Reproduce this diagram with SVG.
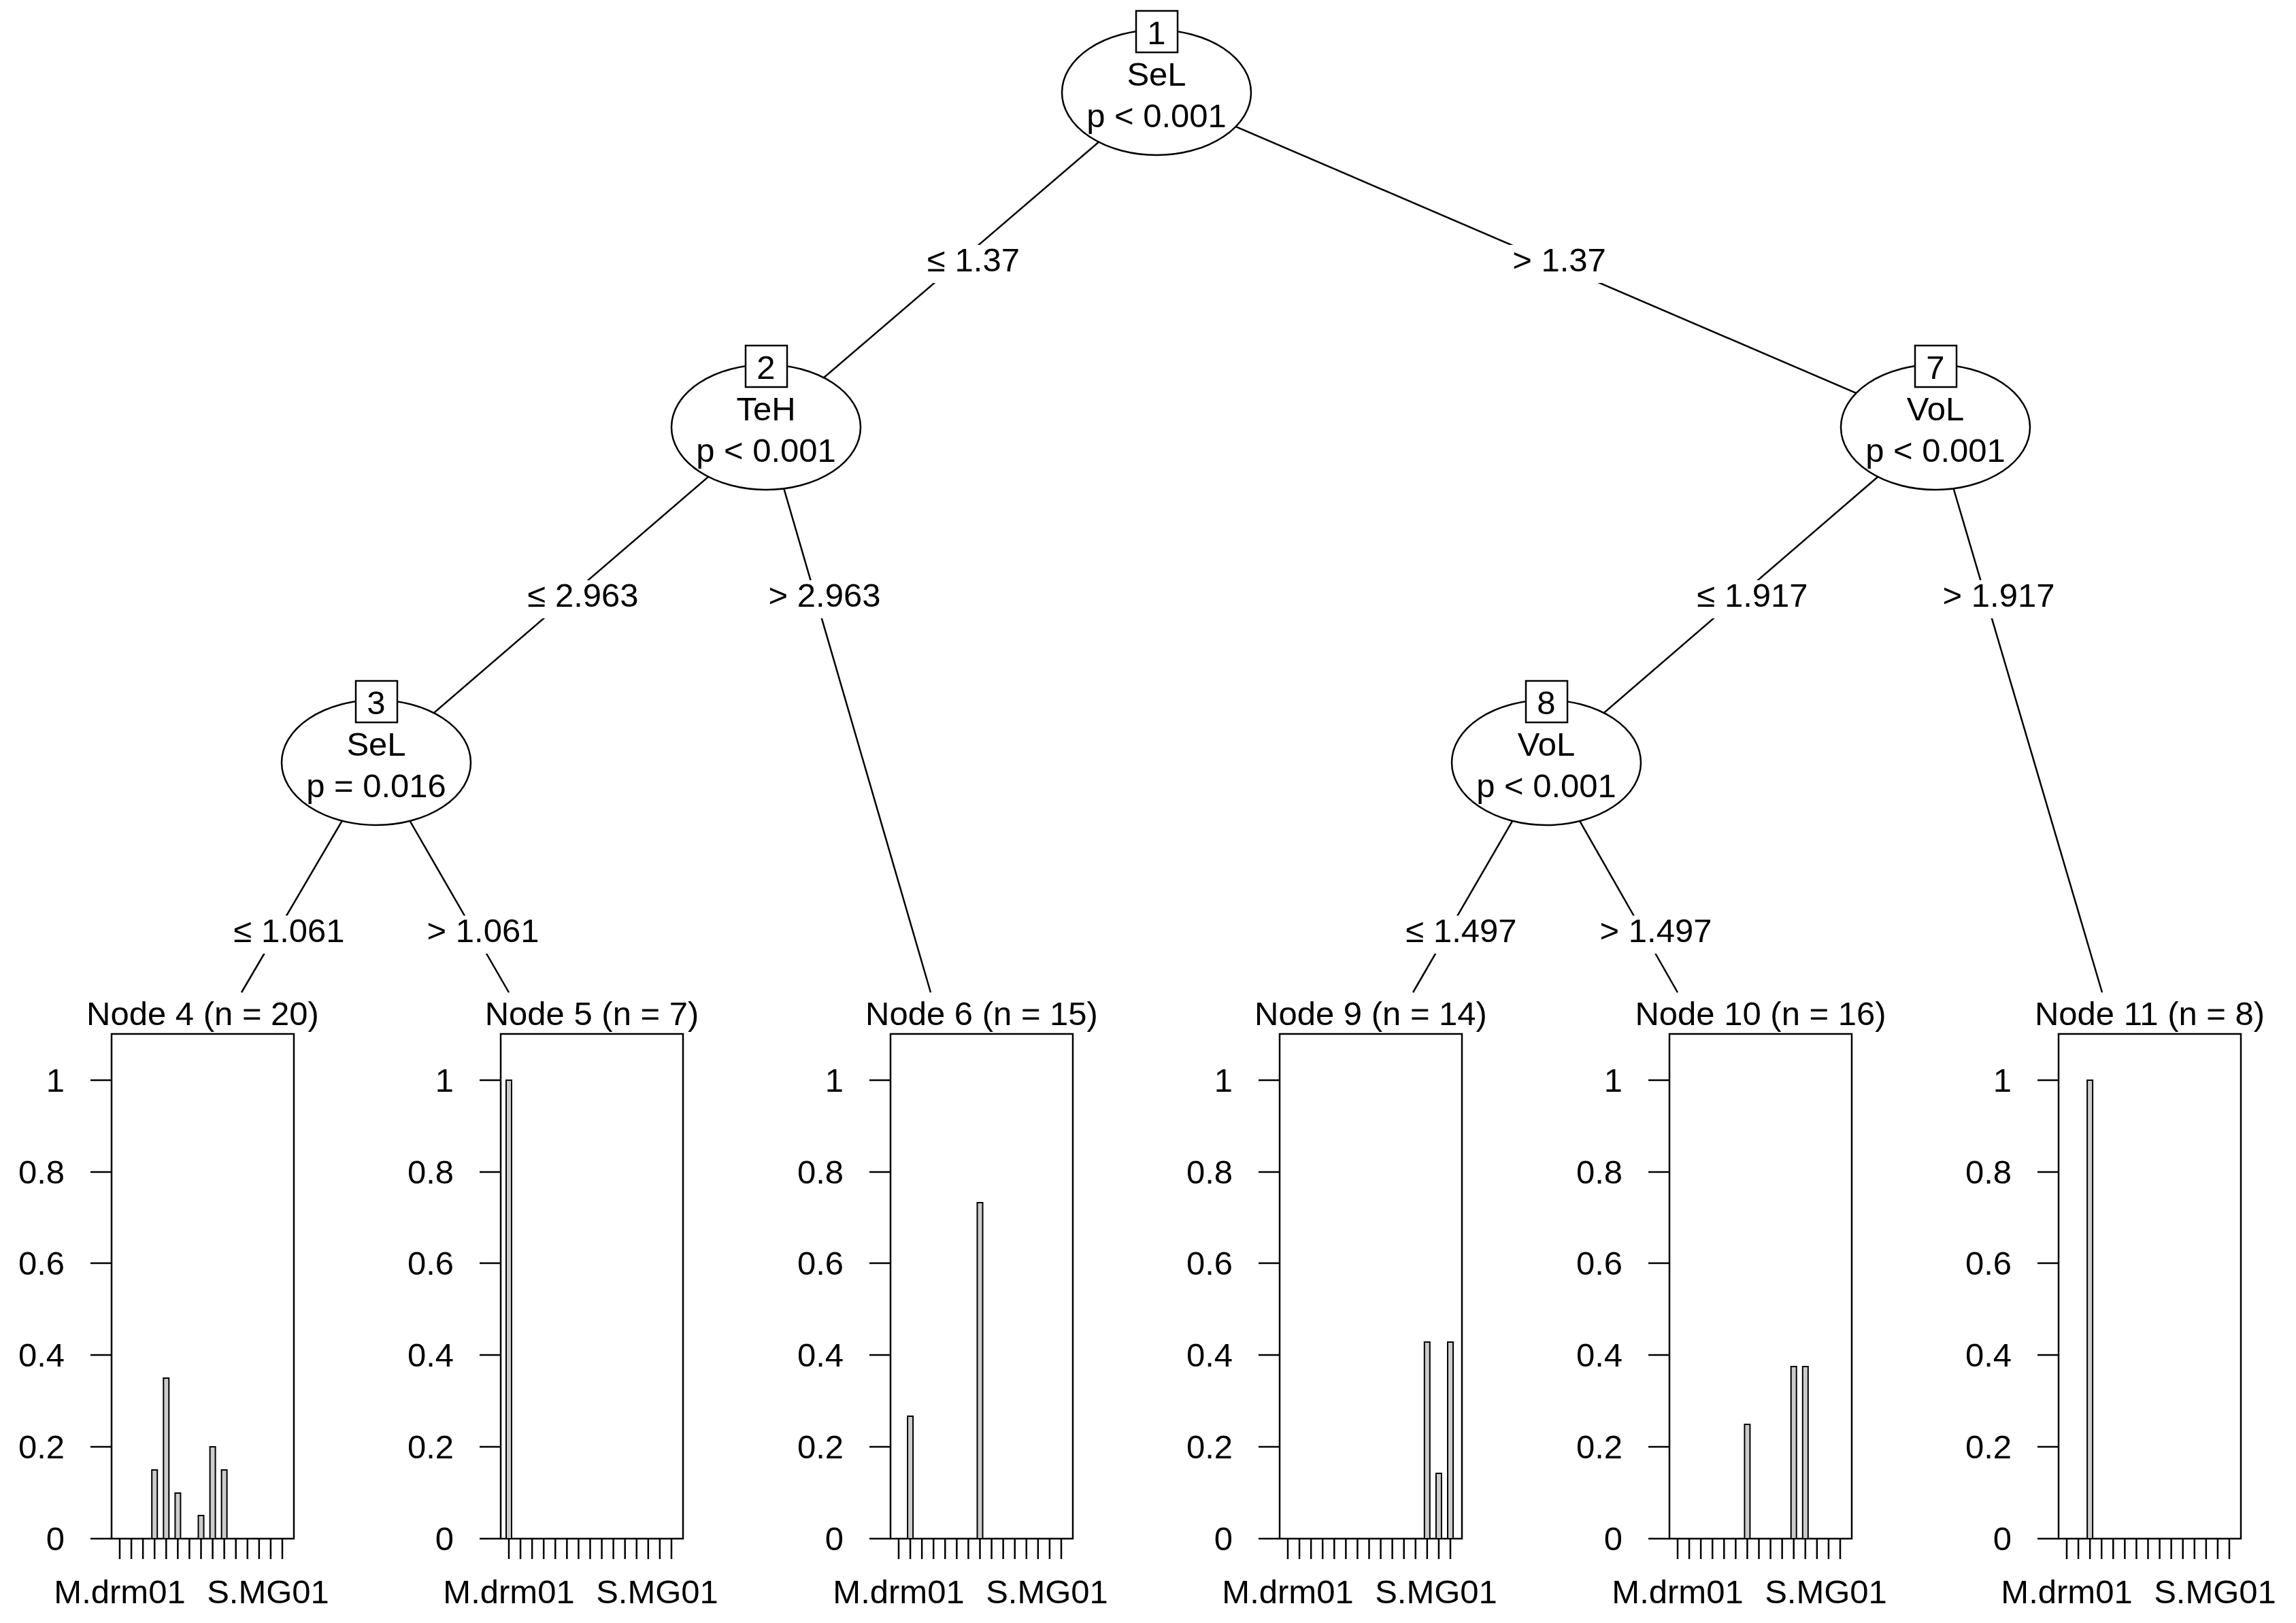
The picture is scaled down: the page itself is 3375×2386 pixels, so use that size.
<svg xmlns="http://www.w3.org/2000/svg" width="3375" height="2386" viewBox="0 0 3375 2386">
<style>
text{font-family:"Liberation Sans",Arial,sans-serif;font-size:49px;fill:#000}
.m{text-anchor:middle}
.r{text-anchor:end}
.ln{stroke:#000;stroke-width:2.5;fill:none}
.el{fill:#fff;stroke:#000;stroke-width:2.5}
.bx{fill:#fff;stroke:#000;stroke-width:2.5}
.bar{fill:#cccccc;stroke:#000;stroke-width:2}
.wb{fill:#fff}
</style>
<defs>
<g id="yax">
<path class="ln" d="M0,1520V2262H268V1520Z"/>
<path class="ln" d="M-31,1588H0M-31,1723H0M-31,1857H0M-31,1992H0M-31,2127H0M-31,2262H0"/>
<text class="r" x="-69" y="1605">1</text>
<text class="r" x="-69" y="1740">0.8</text>
<text class="r" x="-69" y="1874">0.6</text>
<text class="r" x="-69" y="2009">0.4</text>
<text class="r" x="-69" y="2144">0.2</text>
<text class="r" x="-69" y="2279">0</text>
<path class="ln" d="M12,2262v30M29.07,2262v30M46.14,2262v30M63.21,2262v30M80.28,2262v30M97.35,2262v30M114.42,2262v30M131.49,2262v30M148.56,2262v30M165.63,2262v30M182.7,2262v30M199.77,2262v30M216.84,2262v30M233.91,2262v30M250.98,2262v30"/>
<text class="m" x="12" y="2357">M.drm01</text>
<text class="m" x="230" y="2357">S.MG01</text>
</g>
</defs>
<g id="connectors">
<line class="ln" x1="1700" y1="136" x2="1126" y2="628"/>
<line class="ln" x1="1700" y1="136" x2="2845" y2="628"/>
<line class="ln" x1="1126" y1="628" x2="553" y2="1121"/>
<line class="ln" x1="1126" y1="628" x2="1368" y2="1459"/>
<line class="ln" x1="2845" y1="628" x2="2273" y2="1121"/>
<line class="ln" x1="2845" y1="628" x2="3090" y2="1459"/>
<line class="ln" x1="553" y1="1121" x2="355" y2="1459"/>
<line class="ln" x1="553" y1="1121" x2="748" y2="1459"/>
<line class="ln" x1="2273" y1="1121" x2="2077" y2="1459"/>
<line class="ln" x1="2273" y1="1121" x2="2466" y2="1459"/>
<g id="edge-labels">
<rect class="wb" x="1356" y="360" width="150" height="56"/><text class="m" x="1431" y="399">≤ 1.37</text>
<rect class="wb" x="2217" y="360" width="150" height="56"/><text class="m" x="2292" y="399">&gt; 1.37</text>
<rect class="wb" x="762" y="853" width="190" height="56"/><text class="m" x="857" y="892">≤ 2.963</text>
<rect class="wb" x="1117" y="853" width="190" height="56"/><text class="m" x="1212" y="892">&gt; 2.963</text>
<rect class="wb" x="2481" y="853" width="190" height="56"/><text class="m" x="2576" y="892">≤ 1.917</text>
<rect class="wb" x="2843" y="853" width="190" height="56"/><text class="m" x="2938" y="892">&gt; 1.917</text>
<rect class="wb" x="330" y="1346" width="190" height="56"/><text class="m" x="425" y="1385">≤ 1.061</text>
<rect class="wb" x="615" y="1346" width="190" height="56"/><text class="m" x="710" y="1385">&gt; 1.061</text>
<rect class="wb" x="2053" y="1346" width="190" height="56"/><text class="m" x="2148" y="1385">≤ 1.497</text>
<rect class="wb" x="2339" y="1346" width="190" height="56"/><text class="m" x="2434" y="1385">&gt; 1.497</text>
</g>
</g>
<g id="node1"><ellipse class="el" cx="1700" cy="136" rx="139" ry="92"/><rect class="bx" x="1670" y="16" width="61" height="61"/><text class="m" x="1700" y="65">1</text><text class="m" x="1700" y="126">SeL</text><text class="m" x="1700" y="187">p &lt; 0.001</text></g>
<g id="node2"><ellipse class="el" cx="1126" cy="628" rx="139" ry="92"/><rect class="bx" x="1096" y="508" width="61" height="61"/><text class="m" x="1126" y="557">2</text><text class="m" x="1126" y="618">TeH</text><text class="m" x="1126" y="679">p &lt; 0.001</text></g>
<g id="node7"><ellipse class="el" cx="2845" cy="628" rx="139" ry="92"/><rect class="bx" x="2815" y="508" width="61" height="61"/><text class="m" x="2845" y="557">7</text><text class="m" x="2845" y="618">VoL</text><text class="m" x="2845" y="679">p &lt; 0.001</text></g>
<g id="node3"><ellipse class="el" cx="553" cy="1121" rx="139" ry="92"/><rect class="bx" x="523" y="1001" width="61" height="61"/><text class="m" x="553" y="1050">3</text><text class="m" x="553" y="1111">SeL</text><text class="m" x="553" y="1172">p = 0.016</text></g>
<g id="node8"><ellipse class="el" cx="2273" cy="1121" rx="139" ry="92"/><rect class="bx" x="2243" y="1001" width="61" height="61"/><text class="m" x="2273" y="1050">8</text><text class="m" x="2273" y="1111">VoL</text><text class="m" x="2273" y="1172">p &lt; 0.001</text></g>
<g id="node4" transform="translate(164,0)"><text class="m" x="134" y="1507">Node 4 (n = 20)</text><use href="#yax"/>
<rect class="bar" x="59.2" y="2161" width="8" height="101"/><rect class="bar" x="76.3" y="2026" width="8" height="236"/><rect class="bar" x="93.4" y="2195" width="8" height="67"/><rect class="bar" x="127.5" y="2228" width="8" height="34"/><rect class="bar" x="144.6" y="2127" width="8" height="135"/><rect class="bar" x="161.6" y="2161" width="8" height="101"/></g>
<g id="node5" transform="translate(736,0)"><text class="m" x="134" y="1507">Node 5 (n = 7)</text><use href="#yax"/>
<rect class="bar" x="8" y="1588" width="8" height="674"/></g>
<g id="node6" transform="translate(1309,0)"><text class="m" x="134" y="1507">Node 6 (n = 15)</text><use href="#yax"/>
<rect class="bar" x="25.1" y="2082" width="8" height="180"/><rect class="bar" x="127.5" y="1768" width="8" height="494"/></g>
<g id="node9" transform="translate(1881,0)"><text class="m" x="134" y="1507">Node 9 (n = 14)</text><use href="#yax"/>
<rect class="bar" x="212.8" y="1973" width="8" height="289"/><rect class="bar" x="229.9" y="2166" width="8" height="96"/><rect class="bar" x="247" y="1973" width="8" height="289"/></g>
<g id="node10" transform="translate(2454,0)"><text class="m" x="134" y="1507">Node 10 (n = 16)</text><use href="#yax"/>
<rect class="bar" x="110.4" y="2094" width="8" height="168"/><rect class="bar" x="178.7" y="2009" width="8" height="253"/><rect class="bar" x="195.8" y="2009" width="8" height="253"/></g>
<g id="node11" transform="translate(3026,0)"><text class="m" x="134" y="1507">Node 11 (n = 8)</text><use href="#yax"/>
<rect class="bar" x="42.1" y="1588" width="8" height="674"/></g>
</svg>
